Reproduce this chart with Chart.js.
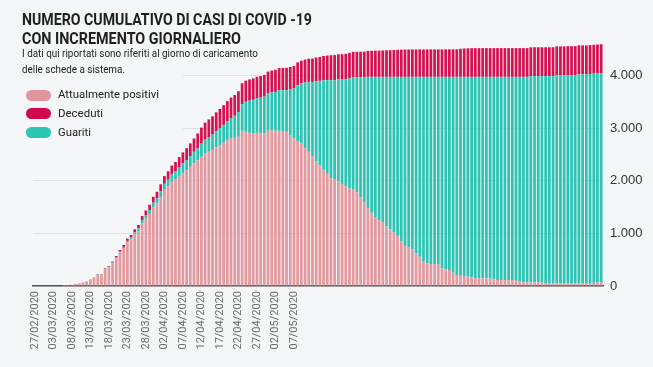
<!DOCTYPE html>
<html><head><meta charset="utf-8">
<script src="https://cdn.jsdelivr.net/npm/chart.js@4"></script>
<style>
html,body{margin:0;padding:0;background:#f5f6f8;}
#wrap{position:relative;width:653px;height:367px;overflow:hidden;background:#f5f6f8;}
canvas{position:absolute;left:0;top:0;}
#head{position:absolute;left:0;top:0;width:183px;height:145px;background:#f5f6f8;z-index:2;}
.fit{position:absolute;white-space:nowrap;transform-origin:0 0;z-index:3;font-family:Roboto,sans-serif;color:#222;}
.t{font-weight:700;font-size:17px;line-height:18.5px;color:#1f1f1f;}
.s{font-size:10.8px;line-height:16px;}
.l{font-size:11.8px;line-height:14px;}
.sw{position:absolute;left:26px;width:25px;height:11px;border-radius:6px;z-index:3;}
</style></head>
<body>
<div id="wrap">
<canvas id="c" width="653" height="367"></canvas>
<div id="head"></div>
<div class="fit t" style="left:22px;top:10px" data-w="290">NUMERO CUMULATIVO DI CASI DI COVID -19</div>
<div class="fit t" style="left:22px;top:28.5px" data-w="219">CON INCREMENTO GIORNALIERO</div>
<div class="fit s" style="left:22px;top:45.5px" data-w="236">I dati qui riportati sono riferiti al giorno di caricamento</div>
<div class="fit s" style="left:22px;top:61.5px" data-w="103">delle schede a sistema.</div>
<div class="sw" style="top:89.8px;background:#e1959c"></div>
<div class="sw" style="top:108.3px;background:#d2094c"></div>
<div class="sw" style="top:127.3px;background:#2bc5b4"></div>
<div class="fit l" style="left:57.5px;top:87px" data-w="101">Attualmente positivi</div>
<div class="fit l" style="left:57.5px;top:105.5px" data-w="45">Deceduti</div>
<div class="fit l" style="left:57.5px;top:124.5px" data-w="33">Guariti</div>
</div>
<script>
// ---- data ----
const START = [2020, 1, 27]; // 27/02/2020
const N_DAYS = 154;
const tickLabels = ['27/02/2020','03/03/2020','08/03/2020','13/03/2020','18/03/2020','23/03/2020','28/03/2020',
  '02/04/2020','07/04/2020','12/04/2020','17/04/2020','22/04/2020','27/04/2020','02/05/2020','07/05/2020'];
const yTicks = [0, 1000, 2000, 3000, 4000];

const positivi = [0,0,0,0,0,0,0,0,
19,19,25,38,51, 68,86,118,155,212, 212,318,355,432,530, 636,722,830,885,980,
1040,1192,1278,1370,1499, 1572,1693,1827,1895,1978, 2020,2082,2145,2200,2265,
2330,2389,2456,2519,2551, 2583,2633,2678,2722,2772, 2804,2817,2836,2950,2931,
2912,2899,2912,2899,2899, 2950,2963,2950,2950,2931, 2931,2868,2804,2741,2709,
2620,2550,2470,2370,2290, 2210,2130,2050,2020,1990, 1940,1890,1850,1830,1780,
1680,1590,1480,1390,1300, 1250,1210,1130,1080,1020, 950,850,760,728,696,
620,557,475,430,418, 418,418,335,316,304, 253,209,209,190,177,
165,152,146,146,146, 146,127,114,114,114, 114,114,101,82,70,
70,70,70,70,63, 51,51,51,51,51, 51,55,55,55,51, 51,51,55,60,65, 70];

const guariti = [0,0,0,0,0,0,0,0,0,0,0,0,0,0,0,
5,5,8, 8,10,10,12,15, 18,22,28,35,40, 54,60,68,75,85, 95,105,115,125,140,
155,170,185,195,205, 221,225,250,265,280, 295,310,320,340,360, 390,420,470,506,570,
610,640,655,680,700, 710,715,740,772,790, 791,867,950,1076,1140,
1248,1330,1410,1523,1609, 1702,1782,1862,1892,1935, 1985,2041,2094,2133,2183,
2283,2373,2495,2585,2675, 2725,2765,2845,2895,2955, 3025,3125,3215,3247,3279,
3355,3418,3500,3545,3557, 3557,3557,3640,3659,3671, 3722,3766,3766,3785,3798,
3810,3823,3829,3829,3829, 3829,3848,3861,3861,3861, 3861,3861,3874,3893,3905,
3905,3920,3920,3920,3927, 3939,3939,3939,3954,3954, 3954,3955,3955,3955,3973,
3973,3973,3975,3975,3975, 3975];

const deceduti = [0,0,0,0,0,0,0,0,0,0,0,0,0,
2,3,4,5,8, 8,12,15,20,25, 30,36,42,50,58, 66,78,90,100,112, 124,135,148,160,172,
185,198,210,225,240, 253,285,305,322,336, 348,358,367,375,382, 388,392,396,399,402,
405,408,410,412,414, 416,418,420,422,424, 426,428,430,432,434, 437,441,445,450,455,
461,468,475,477,479, 481,484,487,488,489, 490,492,494,496,498, 500,502,505,508,511,
514,517,520,521,521, 522,522,522,523,523, 523,523,523,524,524, 524,524,535,540,543,
545,546,546,547,547, 547,547,547,547,547, 547,547,547,547,547, 547,547,548,548,548,
548,548,548,549,549, 549,549,549,549,550, 550,550,550,550,550, 550];

// ---- categories (dates) ----
const categories = [];
for (let k = 0; k < N_DAYS; k++) {
  const d = new Date(Date.UTC(START[0], START[1], START[2] + k));
  categories.push(String(d.getUTCDate()).padStart(2,'0') + '/' + String(d.getUTCMonth()+1).padStart(2,'0') + '/' + d.getUTCFullYear());
}
function fmt(v){ return String(v).replace(/\B(?=(\d{3})+(?!\d))/g, '.'); }

// fit header texts
document.querySelectorAll('.fit').forEach(el => {
  const w = el.getBoundingClientRect().width;
  const t = +el.dataset.w;
  if (w > 0) el.style.transform = 'scaleX(' + (t / w) + ')';
});

const common = { barPercentage: 0.74, categoryPercentage: 1.0, borderWidth: 0 };
new Chart(document.getElementById('c').getContext('2d'), {
  type: 'bar',
  data: {
    labels: categories,
    datasets: [
      Object.assign({ label: 'Attualmente positivi', data: positivi, backgroundColor: '#e4999f' }, common),
      Object.assign({ label: 'Guariti', data: guariti, backgroundColor: '#2cc5b4' }, common),
      Object.assign({ label: 'Deceduti', data: deceduti, backgroundColor: '#d3124f' }, common)
    ]
  },
  options: {
    responsive: false, animation: false, devicePixelRatio: 1,
    layout: { padding: { left: 33, top: 44, right: 0, bottom: 0 } },
    plugins: { legend: { display: false }, tooltip: { enabled: false } },
    scales: {
      x: {
        stacked: true, z: 1,
        grid: { display: false, drawTicks: false },
        border: { display: true, color: '#555', width: 1.5 },
        ticks: {
          autoSkip: false, maxRotation: 90, minRotation: 90, padding: 5,
          color: '#6b6b6b', font: { family: 'Roboto', size: 11 },
          callback: function (v, i) { const l = categories[i]; return tickLabels.includes(l) ? l : ''; }
        },
        afterFit(s) { s.height = 81; }
      },
      y: {
        stacked: true, position: 'right', min: 0, max: 4600, z: 1,
        afterBuildTicks(s) { s.ticks = yTicks.map(v => ({ value: v })); },
        grid: { color: 'rgba(0,0,0,0.09)', drawTicks: false },
        border: { display: false },
        ticks: { padding: 7, color: '#333', font: { family: 'Liberation Sans', size: 13 }, callback: v => fmt(v) },
        afterFit(s) { s.width = 50; }
      }
    }
  }
});
</script>
</body></html>
